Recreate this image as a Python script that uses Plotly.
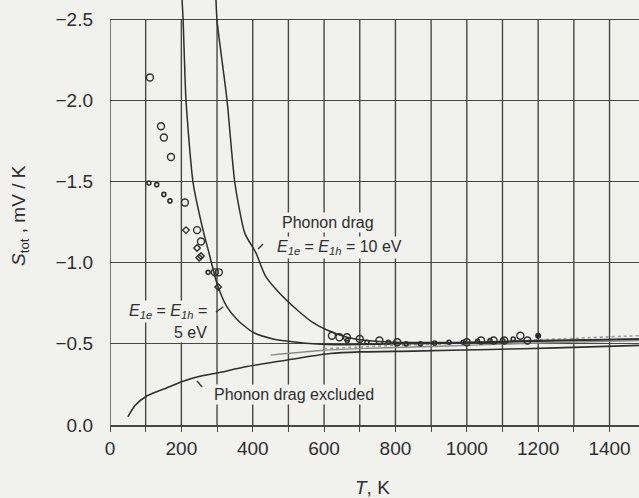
import plotly.graph_objects as go

# ---- data ----
T_5eV = [202, 205, 213, 233, 263, 275, 300, 327, 356, 401, 457, 524, 608, 700, 800, 1000, 1200, 1483]
S_5eV = [-2.62, -2.49, -2.00, -1.49, -1.18, -1.08, -0.87, -0.73, -0.65, -0.57, -0.53, -0.51, -0.495,
         -0.495, -0.50, -0.505, -0.515, -0.53]

T_10eV = [297, 300, 328, 350, 378, 409, 435, 476, 524, 569, 608, 664, 700, 800, 1000, 1200, 1483]
S_10eV = [-2.62, -2.49, -2.00, -1.49, -1.18, -1.06, -0.92, -0.81, -0.71, -0.63, -0.585, -0.54, -0.525,
          -0.51, -0.51, -0.52, -0.53]

T_excl = [50, 70, 104, 160, 205, 252, 300, 384, 524, 617, 700, 850, 1065, 1250, 1483]
S_excl = [-0.05, -0.12, -0.18, -0.23, -0.27, -0.30, -0.32, -0.36, -0.41, -0.44, -0.45, -0.455,
          -0.465, -0.475, -0.49]

T_gray1 = [450, 600, 700, 850, 1000, 1200, 1483]
S_gray1 = [-0.43, -0.46, -0.47, -0.48, -0.49, -0.505, -0.52]
T_gray2 = [600, 800, 1000, 1200, 1483]
S_gray2 = [-0.47, -0.49, -0.505, -0.525, -0.55]

circ_T = [112, 143, 151, 171, 210, 244, 255, 294, 305, 622, 643, 664, 700, 755, 805,
          1000, 1040, 1075, 1105, 1150, 1170]
circ_S = [-2.14, -1.84, -1.77, -1.65, -1.37, -1.20, -1.13, -0.94, -0.94, -0.55, -0.54, -0.54,
          -0.53, -0.52, -0.51, -0.51, -0.52, -0.52, -0.52, -0.55, -0.52]
dot_T = [109, 131, 151, 168, 275, 665, 720, 780, 830, 870, 910, 950, 990, 1030, 1065, 1100, 1130]
dot_S = [-1.49, -1.48, -1.42, -1.38, -0.94, -0.52, -0.51, -0.51, -0.50, -0.50, -0.505, -0.51,
         -0.51, -0.515, -0.52, -0.52, -0.53]
dia_T = [213, 244, 250, 255, 303]
dia_S = [-1.20, -1.09, -1.03, -1.04, -0.85]
fill_T = [1200]
fill_S = [-0.55]

x_grid = list(range(0, 1500, 100))
x_labels = [str(v) if v % 200 == 0 else "" for v in x_grid]
y_ticks = [-2.5, -2.0, -1.5, -1.0, -0.5, 0.0]
y_labels = ["\u22122.5", "\u22122.0", "\u22121.5", "\u22121.0", "\u22120.5", "0.0"]

INK = "#2e2e2e"
GRID = "#474747"
BG = "#f1f1ee"
FONT = "Liberation Sans, Arial, sans-serif"

fig = go.Figure()

def line(tx, sy, color=INK, width=1.5, dash="solid"):
    fig.add_trace(go.Scatter(x=tx, y=sy, mode="lines", line=dict(color=color, width=width, dash=dash,
                                                               shape="spline", smoothing=0.6),
                             showlegend=False, hoverinfo="skip"))

line(T_gray2, S_gray2, color="#9a9a9a", width=1.6, dash="dot")
line(T_gray1, S_gray1, color="#8a8a8a", width=1.4)
line(T_excl, S_excl, width=1.6)
line(T_5eV, S_5eV, width=1.5)
line(T_10eV, S_10eV, width=1.5)

fig.add_trace(go.Scatter(x=circ_T, y=circ_S, mode="markers",
                         marker=dict(symbol="circle-open", size=7, color=INK, line=dict(width=1.4)),
                         showlegend=False, cliponaxis=False))
fig.add_trace(go.Scatter(x=dot_T, y=dot_S, mode="markers",
                         marker=dict(symbol="circle-open", size=4, color=INK, line=dict(width=1.6)),
                         showlegend=False, cliponaxis=False))
fig.add_trace(go.Scatter(x=dia_T, y=dia_S, mode="markers",
                         marker=dict(symbol="diamond-open", size=5, color=INK, line=dict(width=1.4)),
                         showlegend=False, cliponaxis=False))
fig.add_trace(go.Scatter(x=fill_T, y=fill_S, mode="markers",
                         marker=dict(symbol="circle", size=6, color=INK),
                         showlegend=False, cliponaxis=False))

shapes = []
# vertical grid lines stop at the top frame (-2.5)
for v in x_grid:
    shapes.append(dict(type="line", xref="x", yref="y", x0=v, x1=v, y0=0, y1=-2.5,
                       line=dict(color=GRID, width=1.4), layer="below"))
# leader marks for the labels
leaders = [((429, -1.115), (415, -1.084)),
           ((297, -0.696), (317, -0.727)),
           ((244, -0.271), (258, -0.234))]
for (a, b) in leaders:
    shapes.append(dict(type="line", xref="x", yref="y", x0=a[0], y0=a[1], x1=b[0], y1=b[1],
                       line=dict(color=INK, width=1.3)))

ann_font = dict(family=FONT, size=16, color=INK)
E_lab = "<i>E</i><sub><i>1e</i></sub> = <i>E</i><sub><i>1h</i></sub> ="
annotations = [
    dict(x=476, y=-1.25, text="Phonon drag", xanchor="left", yanchor="middle", showarrow=False,
         font=ann_font, bgcolor=BG),
    dict(x=462, y=-1.096, text=E_lab + " 10 eV", xanchor="left", yanchor="middle", showarrow=False,
         font=ann_font, bgcolor=BG),
    dict(x=48, y=-0.696, text=E_lab, xanchor="left", yanchor="middle", showarrow=False,
         font=ann_font, bgcolor=BG),
    dict(x=174, y=-0.567, text="5 eV", xanchor="left", yanchor="middle", showarrow=False,
         font=ann_font, bgcolor=BG),
    dict(x=286, y=-0.185, text="Phonon drag excluded", xanchor="left", yanchor="middle", showarrow=False,
         font=ann_font, bgcolor=BG),
    dict(xref="paper", yref="paper", x=-0.170, y=0.492, text="<i>S</i><sub>tot</sub> , mV / K",
         xanchor="center", yanchor="middle",
         textangle=-90, showarrow=False, font=dict(family=FONT, size=19, color=INK)),
    dict(xref="paper", yref="paper", x=0.497, y=-0.148, text="<i>T</i>, K", xanchor="center",
         yanchor="middle", showarrow=False, font=dict(family=FONT, size=19, color=INK)),
]

fig.update_layout(
    width=639, height=498,
    margin=dict(l=110, r=0, t=0, b=73),
    paper_bgcolor=BG, plot_bgcolor=BG,
    font=dict(family=FONT, size=19, color=INK),
    shapes=shapes, annotations=annotations,
    xaxis=dict(range=[0, 1482.6], tickvals=x_grid, ticktext=x_labels, showgrid=False, zeroline=False,
               showline=True, linecolor=GRID, linewidth=1.5, ticks="outside", ticklen=5,
               tickcolor=GRID, tickwidth=1.4, tickfont=dict(size=19, color=INK)),
    yaxis=dict(range=[0, -2.617], tickvals=y_ticks, ticktext=y_labels, showgrid=True, gridcolor=GRID,
               gridwidth=1.4, zeroline=False, showline=False, ticks="", ticklabelstandoff=16,
               tickfont=dict(size=19, color=INK)),
)

fig.write_html("out.html", config={"displayModeBar": False},
               post_script="document.body.style.margin='0';document.body.style.background='%s';" % BG)
